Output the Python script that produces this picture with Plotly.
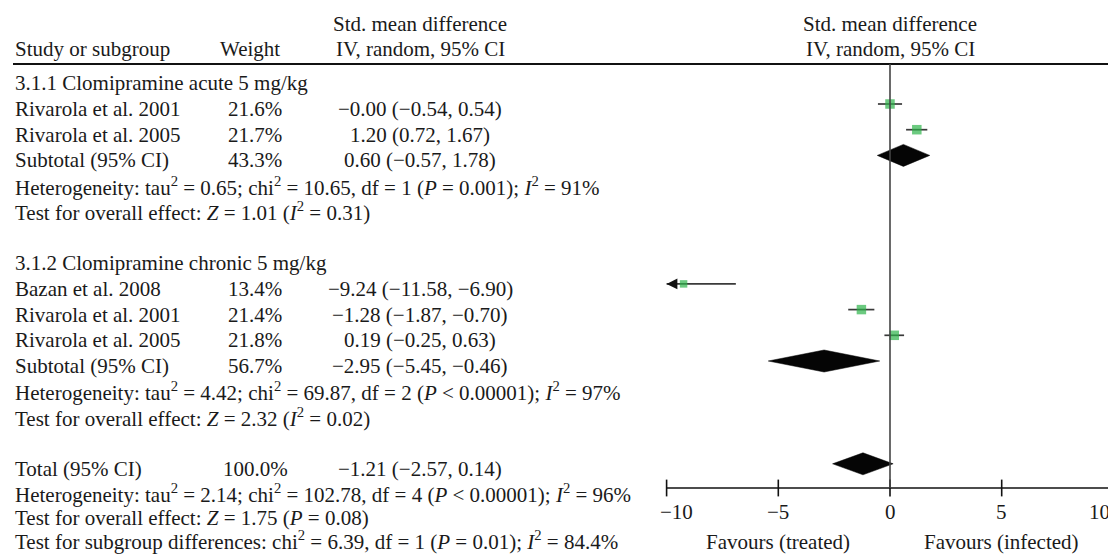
import math
import plotly.graph_objects as go

# ---------------- data ----------------
group_titles = ["3.1.1 Clomipramine acute 5 mg/kg", "3.1.2 Clomipramine chronic 5 mg/kg"]

study_names = ["Rivarola et al. 2001", "Rivarola et al. 2005", "Bazan et al. 2008",
               "Rivarola et al. 2001", "Rivarola et al. 2005"]
study_weights = [21.6, 21.7, 13.4, 21.4, 21.8]
study_smd = [-0.00, 1.20, -9.24, -1.28, 0.19]
study_lo = [-0.54, 0.72, -11.58, -1.87, -0.25]
study_hi = [0.54, 1.67, -6.90, -0.70, 0.63]

summary_names = ["Subtotal (95% CI)", "Subtotal (95% CI)", "Total (95% CI)"]
summary_weights = [43.3, 56.7, 100.0]
summary_smd = [0.60, -2.95, -1.21]
summary_lo = [-0.57, -5.45, -2.57]
summary_hi = [1.78, -0.46, 0.14]

stats_lines = [
    "Heterogeneity: tau<sup>2</sup> = 0.65; chi<sup>2</sup> = 10.65, df = 1 (<i>P</i> = 0.001); <i>I</i><sup>2</sup> = 91%",
    "Test for overall effect: <i>Z</i> = 1.01 (<i>I</i><sup>2</sup> = 0.31)",
    "Heterogeneity: tau<sup>2</sup> = 4.42; chi<sup>2</sup> = 69.87, df = 2 (<i>P</i> &lt; 0.00001); <i>I</i><sup>2</sup> = 97%",
    "Test for overall effect: <i>Z</i> = 2.32 (<i>I</i><sup>2</sup> = 0.02)",
    "Heterogeneity: tau<sup>2</sup> = 2.14; chi<sup>2</sup> = 102.78, df = 4 (<i>P</i> &lt; 0.00001); <i>I</i><sup>2</sup> = 96%",
    "Test for overall effect: <i>Z</i> = 1.75 (<i>P</i> = 0.08)",
    "Test for subgroup differences: chi<sup>2</sup> = 6.39, df = 1 (<i>P</i> = 0.01); <i>I</i><sup>2</sup> = 84.4%",
]

x_ticks = [-10, -5, 0, 5, 10]
x_tick_labels = ["\u221210", "\u22125", "0", "5", "10"]
favours_labels = ["Favours (treated)", "Favours (infected)"]
favours_at = [-5, 5]

header_top = "Std. mean difference"
header_bottom = "IV, random, 95% CI"

# ---------------- layout constants ----------------
W, H = 1108, 555
ROW1_PX, ROW_H = 104.0, 25.7          # pixel of row 1, row height
ZERO_PX, PX_PER_UNIT = 890.0, 22.34   # x-scale of the forest panel

group_rows = [0, 7]
study_rows = [1, 2, 8, 9, 10]
summary_rows = [3, 11, 15]
stats_rows = [4, 5, 12, 13, 15.97, 16.92, 17.78]

def px_to_row(py):
    return 1 + (py - ROW1_PX) / ROW_H

Y_TOP = px_to_row(0)
Y_BOT = px_to_row(H)
X_RANGE = [-ZERO_PX / PX_PER_UNIT, (W - ZERO_PX) / PX_PER_UNIT]

AXIS_ROW = px_to_row(488)
RULE_ROW = px_to_row(64)
TICKLAB_ROW = px_to_row(512)
FAVOURS_ROW = px_to_row(542)

FONT = "Liberation Serif, Times New Roman, serif"
FS = 21
TXT = "#1a1a1a"
GREEN = "#2db34a"
CI_COL = "#3a3a3a"

NAME_X = 13 / W
WEIGHT_X = 255 / W
CI_X = 420 / W
TEXT_SHIFT = -5

def fmt(v):
    return f"{v:.2f}".replace("-", "\u2212")

def ci_text(e, l, h):
    return f"{fmt(e)} ({fmt(l)}, {fmt(h)})"

fig = go.Figure()

# ---- CI lines of studies (truncated at the axis minimum) ----
ci_x, ci_y = [], []
arrows = []
for r, l, h in zip(study_rows, study_lo, study_hi):
    if l < x_ticks[0]:
        arrows.append(r)
        ci_x += [x_ticks[0], h, None]
    else:
        ci_x += [l, h, None]
    ci_y += [r, r, None]
fig.add_trace(go.Scatter(x=ci_x, y=ci_y, mode="lines",
                         line=dict(color=CI_COL, width=1.7), hoverinfo="skip"))

# ---- study squares ----
fig.add_trace(go.Scatter(
    x=study_smd, y=study_rows, mode="markers",
    marker=dict(symbol="square", color=GREEN,
                size=[9.5 * math.sqrt(w / 21.6) for w in study_weights],
                line=dict(width=0)),
    hoverinfo="skip"))

# ---- summary diamonds ----
DH = 11 / ROW_H
for r, e, l, h in zip(summary_rows, summary_smd, summary_lo, summary_hi):
    fig.add_trace(go.Scatter(
        x=[l, e, h, e, l], y=[r, r - DH, r, r + DH, r],
        mode="lines", fill="toself", fillcolor="#050505",
        line=dict(color="#050505", width=0.5), hoverinfo="skip"))

# ---- bottom axis ----
fig.add_trace(go.Scatter(x=[x_ticks[0], x_ticks[-1]], y=[AXIS_ROW, AXIS_ROW],
                         mode="lines", line=dict(color="#111", width=1.6),
                         hoverinfo="skip"))
fig.add_trace(go.Scatter(x=x_ticks, y=[AXIS_ROW] * len(x_ticks), mode="markers",
                         marker=dict(symbol="line-ns", size=12,
                                     line=dict(color="#111", width=1.6)),
                         hoverinfo="skip"))

shapes = [
    # top rule
    dict(type="line", xref="paper", yref="paper", x0=13 / W, x1=1,
         y0=1 - 64 / H, y1=1 - 64 / H, line=dict(color="#111", width=2)),
    # line of no effect
    dict(type="line", xref="x", yref="y", x0=0, x1=0, y0=RULE_ROW, y1=AXIS_ROW,
         line=dict(color="#444", width=1.6)),
]

ann = []

def add_text(text, x, y, xanchor="left", yref="y", xref="paper", yshift=TEXT_SHIFT, xshift=0):
    ann.append(dict(text=text, x=x, y=y, xref=xref, yref=yref, xanchor=xanchor,
                    yanchor="middle", showarrow=False, yshift=yshift, xshift=xshift,
                    font=dict(family=FONT, size=FS, color=TXT)))

# headers
add_text("Study or subgroup", NAME_X, 1 - 49 / H, yref="paper", yshift=0)
add_text("Weight", 250 / W, 1 - 49 / H, xanchor="center", yref="paper", yshift=0)
add_text(header_top, CI_X, 1 - 24 / H, xanchor="center", yref="paper", yshift=0)
add_text(header_bottom, CI_X, 1 - 49 / H, xanchor="center", yref="paper", yshift=0)
add_text(header_top, 0, 1 - 24 / H, xanchor="center", xref="x", yref="paper", yshift=0)
add_text(header_bottom, 0, 1 - 49 / H, xanchor="center", xref="x", yref="paper", yshift=0)

for t, r in zip(group_titles, group_rows):
    add_text(t, NAME_X, r)

for n, w, e, l, h, r in zip(study_names, study_weights, study_smd, study_lo, study_hi, study_rows):
    add_text(n, NAME_X, r)
    add_text(f"{w:.1f}%", WEIGHT_X, r, xanchor="center")
    add_text(ci_text(e, l, h), CI_X, r, xanchor="center")

for n, w, e, l, h, r in zip(summary_names, summary_weights, summary_smd, summary_lo, summary_hi, summary_rows):
    add_text(n, NAME_X, r)
    add_text(f"{w:.1f}%", WEIGHT_X, r, xanchor="center")
    add_text(ci_text(e, l, h), CI_X, r, xanchor="center")

for t, r in zip(stats_lines, stats_rows):
    add_text(t, NAME_X, r)

# arrowhead for CI truncated at the axis minimum
for r in arrows:
    ann.append(dict(x=x_ticks[0], y=r, ax=x_ticks[0] + 0.5, ay=r, xref="x", yref="y",
                    axref="x", ayref="y", text="", showarrow=True, arrowhead=2,
                    arrowsize=1.2, arrowwidth=1.8, arrowcolor="#111",
                    standoff=0, startstandoff=0))

# tick labels
label_shift = [10, 0, 0, 0, -14]
for v, lab, s in zip(x_ticks, x_tick_labels, label_shift):
    if X_RANGE[0] <= v <= X_RANGE[1]:
        add_text(lab, v, TICKLAB_ROW, xanchor="center", xref="x", yshift=0, xshift=s)
    else:
        xp = (v - X_RANGE[0]) / (X_RANGE[1] - X_RANGE[0])
        add_text(lab, xp, TICKLAB_ROW, xanchor="center", xref="paper", yshift=0, xshift=s)

for lab, v in zip(favours_labels, favours_at):
    add_text(lab, v, FAVOURS_ROW, xanchor="center", xref="x", yshift=0)

fig.update_layout(
    width=W, height=H, margin=dict(l=0, r=0, t=0, b=0),
    paper_bgcolor="white", plot_bgcolor="white", showlegend=False,
    xaxis=dict(range=X_RANGE, visible=False, fixedrange=True),
    yaxis=dict(range=[Y_BOT, Y_TOP], visible=False, fixedrange=True),
    shapes=shapes, annotations=ann,
)

fig.write_html("out.html")
